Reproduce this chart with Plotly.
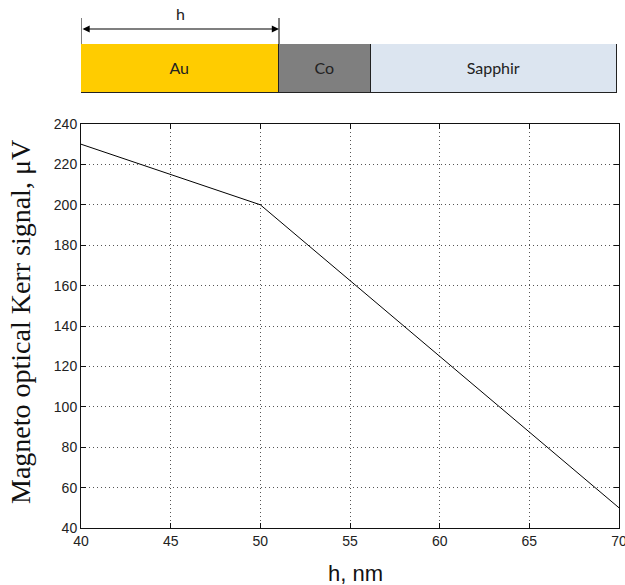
import plotly.graph_objects as go

# Kerr signal versus gold thickness
h_nm = [40, 45, 50, 55, 60, 65, 70]
kerr_uV = [230, 215, 200, 162.5, 125, 87.5, 50]

x_ticks = [40, 45, 50, 55, 60, 65, 70]
y_ticks = [40, 60, 80, 100, 120, 140, 160, 180, 200, 220, 240]

# Layer stack sketch (relative widths)
layers = ["Au", "Co", "Sapphir"]
layer_widths = [198, 92, 246]
layer_colors = ["#FFCC00", "#7F7F7F", "#DCE5F0"]

W, H = 625, 585
ML, MR, MT, MB = 81, 6, 0, 57
PW = W - ML - MR
PH = H - MT - MB  # plot area height in px


def py(px_from_top):
    """Convert a pixel row (from top of page) to paper y."""
    return (PH - (px_from_top - MT)) / PH


def px(px_from_left):
    """Convert a pixel column (from left of page) to paper x."""
    return (px_from_left - ML) / PW


fig = go.Figure()

fig.add_trace(go.Scatter(
    x=h_nm, y=kerr_uV, mode="lines",
    line=dict(color="black", width=1),
    showlegend=False, hoverinfo="skip",
))

for name, w, c in zip(layers, layer_widths, layer_colors):
    fig.add_trace(go.Bar(
        x=[w], y=["stack"], orientation="h",
        xaxis="x2", yaxis="y2",
        marker=dict(color=c, line=dict(color="#222222", width=1.5)),
        text=[name], textposition="inside", insidetextanchor="middle",
        textfont=dict(family="Lato, Noto Sans, sans-serif", size=16, color="#222222"),
        showlegend=False, hoverinfo="skip",
    ))

total = sum(layer_widths)
au_end = layer_widths[0]

axis_common = dict(
    showline=True, linecolor="#111111", linewidth=1, mirror="ticks",
    ticks="inside", ticklen=5, tickcolor="#111111",
    showgrid=True, gridcolor="#555555", griddash="1px,3px", gridwidth=1,
    zeroline=False, automargin=False, ticklabeloverflow="allow",
    tickfont=dict(family="Liberation Sans, Arial, sans-serif", size=14, color="#222222"),
)

fig.update_layout(
    width=W, height=H,
    margin=dict(l=ML, r=MR, t=MT, b=MB),
    paper_bgcolor="white", plot_bgcolor="white",
    barmode="stack", bargap=0,
    uniformtext=dict(minsize=16, mode="show"),
    xaxis=dict(
        **axis_common, domain=[0, 1], range=[40, 70],
        tickvals=x_ticks,
    ),
    yaxis=dict(
        **axis_common, domain=[0, py(124)], range=[40, 240],
        tickvals=y_ticks,
    ),
    xaxis2=dict(domain=[0, px(617)], range=[0, total],
                visible=False, fixedrange=True),
    yaxis2=dict(domain=[py(93), py(44)], visible=False, fixedrange=True),
)

# axis titles
fig.add_annotation(
    x=px(355), y=py(573), xref="paper", yref="paper",
    xanchor="center", yanchor="middle",
    text="h, nm", showarrow=False,
    font=dict(family="Liberation Sans, Arial, sans-serif", size=22, color="#111111"),
)
fig.add_annotation(
    x=px(20), y=py(322), xref="paper", yref="paper",
    xanchor="center", yanchor="middle", textangle=-90,
    text="Magneto optical Kerr signal, \u03bcV", showarrow=False,
    font=dict(family="Liberation Serif, Times New Roman, serif", size=28, color="#111111"),
)

# thickness arrow and its end markers over the Au layer
fig.add_annotation(
    x=au_end, y=py(29), xref="x2", yref="paper",
    ax=0, ay=0, axref="x2", ayref="pixel",
    showarrow=True, arrowhead=2, arrowside="end+start",
    arrowsize=1.2, arrowwidth=1.2, arrowcolor="black", text="",
)
for xv in [0, au_end]:
    fig.add_shape(type="line", xref="x2", yref="paper",
                  x0=xv, x1=xv, y0=py(44), y1=py(18),
                  line=dict(color="black", width=1))
fig.add_annotation(
    x=au_end / 2, y=py(14), xref="x2", yref="paper", yanchor="middle",
    text="h", showarrow=False,
    font=dict(family="Lato, Noto Sans, sans-serif", size=16, color="#222222"),
)

fig.write_html("out.html")
